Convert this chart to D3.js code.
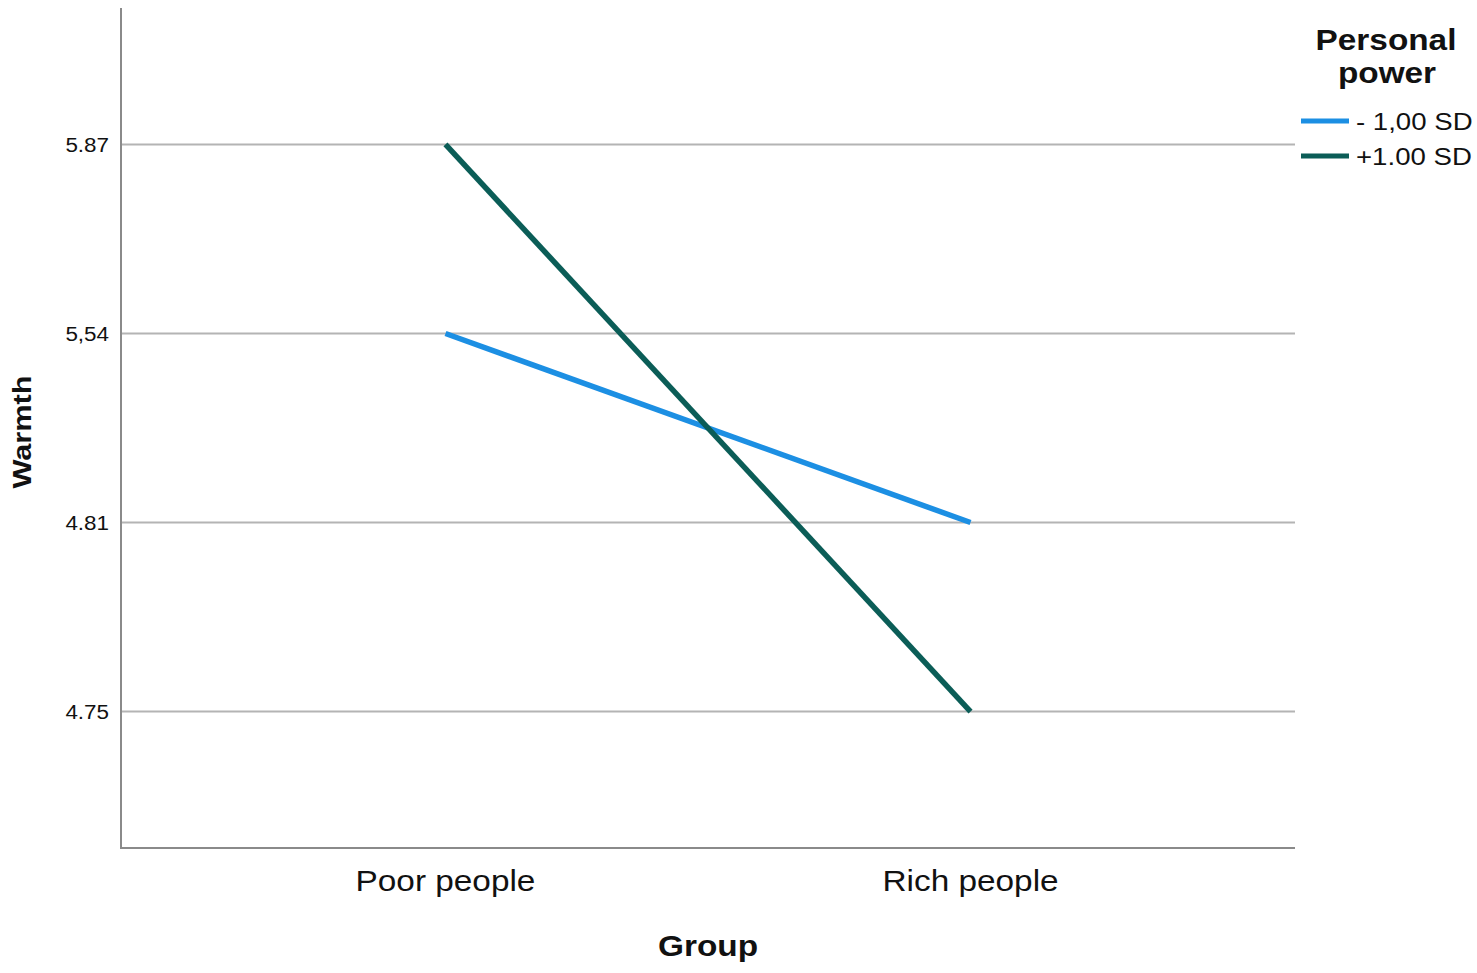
<!DOCTYPE html>
<html><head><meta charset="utf-8">
<script src="https://cdn.jsdelivr.net/npm/d3@7"></script>
<style>body{margin:0;background:#fff}svg{display:block}text{font-family:"Liberation Sans",Arial,sans-serif}</style>
</head><body><svg id="c" width="1477" height="973"></svg>
<script>
const groups = ["Poor people", "Rich people"];
const tickValues = [5.87, 5.54, 4.81, 4.75];
const tickLabels = ["5.87", "5,54", "4.81", "4.75"];
const seriesNames = ["- 1,00 SD", "+1.00 SD"];
const minus1SD = [5.54, 4.81];
const plus1SD = [5.87, 4.75];
const seriesColors = ["#1c8fe3", "#0b5d57"];

const svg = d3.select("#c");
const L = 121, R = 1295, T = 8, B = 848;
const SX = 1.15;

const x = d3.scalePoint().domain(groups).range([L, R]).padding(0.618);
const yIdx = d3.scalePoint().domain(d3.range(tickValues.length)).range([T, B]).padding(0.722);
const y = d3.scaleLinear().domain(tickValues).range(tickValues.map((_, i) => yIdx(i)));

// gridlines
svg.append("g").selectAll("line").data(tickValues).join("line")
  .attr("x1", L).attr("x2", R).attr("y1", d => y(d)).attr("y2", d => y(d))
  .attr("stroke", "#b4b4b4").attr("stroke-width", 2);

// y tick labels
svg.append("g").selectAll("text").data(tickValues).join("text")
  .attr("transform", d => `translate(109,${y(d)}) scale(${SX},1)`).attr("dy", "0.36em")
  .attr("text-anchor", "end").attr("font-size", 19.5).attr("fill", "#111")
  .text((d, i) => tickLabels[i]);

// axes
svg.append("path").attr("d", `M${L},${T}V${B}H${R}`).attr("fill", "none")
  .attr("stroke", "#8a8a8a").attr("stroke-width", 2);

// x tick labels
svg.append("g").selectAll("text").data(groups).join("text")
  .attr("transform", d => `translate(${x(d)},881) scale(${SX},1)`).attr("dy", "0.36em")
  .attr("text-anchor", "middle").attr("font-size", 29).attr("fill", "#111")
  .text(d => d);

// axis titles
svg.append("text").attr("transform", `translate(${(L + R) / 2},946) scale(${SX},1)`).attr("dy", "0.36em")
  .attr("text-anchor", "middle").attr("font-size", 29).attr("font-weight", "bold").attr("fill", "#111").text("Group");
svg.append("text").attr("transform", "translate(22,432) rotate(-90) scale(1.18,1)").attr("dy", "0.36em")
  .attr("text-anchor", "middle").attr("font-size", 26).attr("font-weight", "bold").attr("fill", "#111").text("Warmth");

// lines
const series = [minus1SD, plus1SD];
const line = d3.line().x((d, i) => x(groups[i])).y(d => y(d));
svg.append("g").selectAll("path").data(series).join("path")
  .attr("d", d => line(d)).attr("fill", "none")
  .attr("stroke", (d, i) => seriesColors[i]).attr("stroke-width", 5.5);

// legend
const lg = svg.append("g");
lg.append("text").attr("transform", `translate(1386,40) scale(${SX},1)`).attr("dy", "0.36em").attr("text-anchor", "middle")
  .attr("font-size", 29).attr("font-weight", "bold").attr("fill", "#111").text("Personal");
lg.append("text").attr("transform", `translate(1387,73) scale(${SX},1)`).attr("dy", "0.36em").attr("text-anchor", "middle")
  .attr("font-size", 29).attr("font-weight", "bold").attr("fill", "#111").text("power");
const items = lg.selectAll("g.it").data(seriesNames).join("g").attr("class", "it")
  .attr("transform", (d, i) => `translate(0,${121 + i * 35})`);
items.append("line").attr("x1", 1301).attr("x2", 1349).attr("stroke", (d, i) => seriesColors[i]).attr("stroke-width", 5);
items.append("text").attr("transform", `translate(1356,0) scale(${SX},1)`).attr("dy", "0.36em").attr("font-size", 24).attr("fill", "#111").text(d => d);
</script></body></html>
